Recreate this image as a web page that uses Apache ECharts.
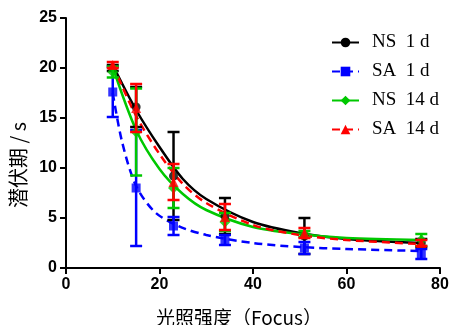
<!DOCTYPE html>
<html>
<head>
<meta charset="utf-8">
<script src="https://cdn.jsdelivr.net/npm/echarts@6/dist/echarts.min.js"></script>
<style>html,body{margin:0;padding:0;background:#fff;}#c{width:452px;height:325px;}</style>
</head>
<body>
<div id="c"></div>
<script>
// ---- data ----
var seriesNames = ['NS  1 d', 'SA  1 d', 'NS  14 d', 'SA  14 d'];
var xPoints = [10, 15, 23, 34, 51, 76];
var meanNS1 = [20.0, 16.1, 9.2, 5.2, 3.2, 2.5];
var errNS1 = [0.3, 2.0, 4.4, 1.8, 1.8, 0.4];
var meanSA1 = [17.6, 8.0, 4.2, 2.8, 2.0, 1.4];
var errSA1 = [2.5, 5.8, 0.9, 0.5, 0.6, 0.5];
var meanNS14 = [19.6, 13.6, 8.0, 4.6, 3.4, 2.8];
var errNS14 = [0.55, 4.35, 2.0, 0.9, 0.3, 0.6];
var meanSA14 = [20.3, 16.0, 8.6, 5.1, 3.5, 2.5];
var errSA14 = [0.3, 2.4, 1.8, 1.3, 0.5, 0.3];
// fitted curves
var curveX = [10, 15, 20, 25, 30, 40, 50, 60, 76];
var curveNS1 = [20.3, 15.8, 12.1, 8.9, 6.9, 4.6, 3.5, 2.9, 2.5];
var curveSA14 = [20.3, 15.2, 11.4, 8.4, 6.5, 4.3, 3.3, 2.8, 2.4];
var curveNS14 = [20.1, 13.8, 9.9, 7.4, 5.8, 4.1, 3.4, 3.0, 2.8];
var curveSAx = [10, 12, 15, 19, 24, 30, 40, 50, 60, 76];
var curveSA1 = [17.5, 12.6, 8.2, 5.6, 4.2, 3.3, 2.5, 2.1, 1.9, 1.7];
var xTicks = [0, 20, 40, 60, 80];
var yTicks = [0, 5, 10, 15, 20, 25];

var colors = ['#000000', '#0000ff', '#00c800', '#ff0000'];
var symbols = ['circle', 'rect', 'diamond', 'triangle'];
var symSizes = [9, 9, 11, 10];
var lineTypes = ['solid', [8, 5], 'solid', [8, 5]];
var means = [meanNS1, meanSA1, meanNS14, meanSA14];
var errs = [errNS1, errSA1, errNS14, errSA14];
var curves = [[curveX, curveNS1], [curveSAx, curveSA1], [curveX, curveNS14], [curveX, curveSA14]];

function zip(a, b) { return a.map(function (v, i) { return [v, b[i]]; }); }

var series = [];
[0, 1, 2, 3].forEach(function (k, idx) {
  series.push({
    name: seriesNames[k], type: 'line', data: zip(curves[k][0], curves[k][1]),
    smooth: 0.3, showSymbol: false, symbol: symbols[k], symbolSize: symSizes[k],
    itemStyle: { color: colors[k] },
    lineStyle: { color: colors[k], width: 2.5, type: lineTypes[k] },
    z: 2, silent: true, animation: false
  });
  series.push({
    name: seriesNames[k] + '_err', type: 'custom',
    data: xPoints.map(function (x, i) { return [x, means[k][i], errs[k][i]]; }),
    renderItem: (function (col) {
      return function (params, api) {
        var x = api.value(0), m = api.value(1), e = api.value(2);
        var top = api.coord([x, m + e]);
        var bot = api.coord([x, m - e]);
        var hw = 6;
        var st = { stroke: col, lineWidth: 2.5 };
        return { type: 'group', children: [
          { type: 'line', shape: { x1: top[0], y1: top[1], x2: bot[0], y2: bot[1] }, style: st },
          { type: 'line', shape: { x1: top[0] - hw, y1: top[1], x2: top[0] + hw, y2: top[1] }, style: st },
          { type: 'line', shape: { x1: bot[0] - hw, y1: bot[1], x2: bot[0] + hw, y2: bot[1] }, style: st }
        ]};
      };
    })(colors[k]),
    z: 3 + idx, silent: true, animation: false
  });
  series.push({
    name: seriesNames[k] + '_pts', type: 'scatter', data: zip(xPoints, means[k]),
    symbol: symbols[k], symbolSize: symSizes[k],
    itemStyle: { color: colors[k] }, z: 3 + idx, silent: true, animation: false
  });
});

var chart = echarts.init(document.getElementById('c'), null, { renderer: 'canvas' });
chart.setOption({
  animation: false,
  backgroundColor: '#ffffff',
  grid: { left: 66, right: 12, top: 18, bottom: 57, containLabel: false, outerBoundsMode: 'none' },
  legend: {
    data: seriesNames, orient: 'vertical', left: 326, top: 28,
    itemWidth: 27, itemHeight: 12, itemGap: 10,
    textStyle: { fontFamily: 'Liberation Serif', fontSize: 19, color: '#000', padding: [0, 0, 0, 8] },
    selectedMode: false
  },
  xAxis: {
    type: 'value', min: xTicks[0], max: xTicks[xTicks.length - 1], interval: 20,
    name: '光照强度（Focus）', nameLocation: 'middle', nameGap: 40,
    nameTextStyle: { fontFamily: 'Noto Sans CJK SC', fontSize: 19, color: '#000', padding: [0, 28, 0, 0] },
    axisLine: { onZero: false, lineStyle: { color: '#000', width: 2 } },
    axisTick: { show: true, length: 6, lineStyle: { color: '#000', width: 2 } },
    axisLabel: { color: '#000', fontFamily: 'Liberation Sans', fontWeight: 'bold', fontSize: 16, margin: 9 },
    splitLine: { show: false }
  },
  yAxis: {
    type: 'value', min: yTicks[0], max: yTicks[yTicks.length - 1], interval: 5,
    name: '潜伏期 / s', nameLocation: 'middle', nameGap: 36,
    nameTextStyle: { fontFamily: 'Noto Sans CJK SC', fontSize: 20, color: '#000', padding: [0, 44, 0, 0] },
    axisLine: { onZero: false, lineStyle: { color: '#000', width: 2 } },
    axisTick: { show: true, length: 6, lineStyle: { color: '#000', width: 2 } },
    axisLabel: { color: '#000', fontFamily: 'Liberation Sans', fontWeight: 'bold', fontSize: 16, margin: 9 },
    splitLine: { show: false }
  },
  series: series
});
</script>
</body>
</html>
